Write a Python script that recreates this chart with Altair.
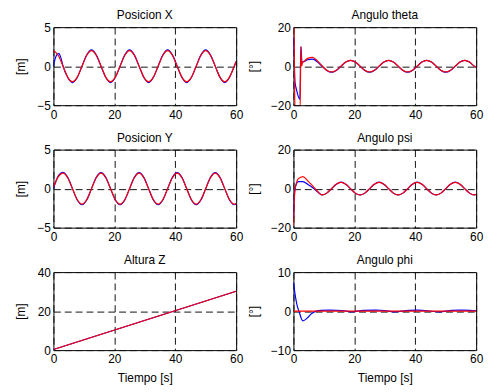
import altair as alt
import pandas as pd

FONT = "Liberation Sans"

# common eighth-period time grid (s)
t8 = [0, 1.56, 3.13, 4.69, 6.25, 7.81, 9.38, 10.94, 12.5, 14.06, 15.63, 17.19,
      18.75, 20.31, 21.88, 23.44, 25, 26.56, 28.13, 29.69, 31.25, 32.81, 34.38,
      35.94, 37.5, 39.06, 40.63, 42.19, 43.75, 45.31, 46.88, 48.44, 50, 51.56,
      53.13, 54.69, 56.25, 57.81, 59.38, 60]

# Posicion X
x_red = [2.0, 1.4, 0.0, -1.4, -2.0, -1.4, 0.0, 1.4,
         2.0, 1.4, 0.0, -1.4, -2.0, -1.4, 0.0, 1.4,
         2.0, 1.4, 0.0, -1.4, -2.0, -1.4, 0.0, 1.4,
         2.0, 1.4, 0.0, -1.4, -2.0, -1.4, 0.0, 1.4,
         2.0, 1.4, 0.0, -1.4, -2.0, -1.4, 0.0, 0.6]
xb_t = [0, 0.6, 1.2, 1.8, 2.5] + t8[2:]
x_blue = [0.0, 1.0, 1.5, 1.6, 1.0,
          0.05, -1.45, -2.1, -1.45, 0.0, 1.45,
          2.1, 1.45, 0.0, -1.45, -2.1, -1.45, 0.0, 1.45,
          2.1, 1.45, 0.0, -1.45, -2.1, -1.45, 0.0, 1.45,
          2.1, 1.45, 0.0, -1.45, -2.1, -1.45, 0.0, 1.45,
          2.1, 1.45, 0.0, -1.45, -2.1, -1.45, 0.0, 0.6]

# Posicion Y
y_red = [0.2, 1.5, 2.0, 1.4, 0.0, -1.4, -2.0, -1.4,
         0.0, 1.4, 2.0, 1.4, 0.0, -1.4, -2.0, -1.4,
         0.0, 1.4, 2.0, 1.4, 0.0, -1.4, -2.0, -1.4,
         0.0, 1.4, 2.0, 1.4, 0.0, -1.4, -2.0, -1.4,
         0.0, 1.4, 2.0, 1.4, 0.0, -1.4, -2.0, -1.9]
y_blue = [0.0, 1.6, 2.1, 1.45, 0.0, -1.45, -2.05, -1.45,
          0.0, 1.45, 2.05, 1.45, 0.0, -1.45, -2.05, -1.45,
          0.0, 1.45, 2.05, 1.45, 0.0, -1.45, -2.05, -1.45,
          0.0, 1.45, 2.05, 1.45, 0.0, -1.45, -2.05, -1.45,
          0.0, 1.45, 2.05, 1.45, 0.0, -1.45, -2.05, -1.95]

# Altura Z
z_t = [0, 60]
z_red = [0.3, 30.2]
z_blue = [0.3, 30.2]

# Angulo theta
th_red_t = [0, 0.15, 0.5, 2.2, 2.45, 2.7, 3.0, 3.5] + t8[3:]
th_red = [22, 22, -22, -22, 10, 0.0, 2.0, 2.5,
          4.0, 4.5, 2.8, 0.2, -2.1,
          -3.0, -2.1, 0.0, 2.1, 3.0, 2.1, 0.0, -2.1,
          -3.0, -2.1, 0.0, 2.1, 3.0, 2.1, 0.0, -2.1,
          -3.0, -2.1, 0.0, 2.1, 3.0, 2.1, 0.0, -2.1,
          -3.0, -2.1, 0.0, 2.1, 3.0, 2.1, 0.0, -0.5]
th_blue_t = [0, 0.2, 0.5, 1.0, 2.1, 2.45, 2.8, 3.5] + t8[3:]
th_blue = [15, 6, -8, -12, -17, 10, 2.0, 2.3,
           3.3, 3.6, 2.3, 0.0, -2.2,
           -3.1, -2.2, 0.0, 2.1, 3.0, 2.1, 0.0, -2.2,
           -3.1, -2.2, 0.0, 2.1, 3.0, 2.1, 0.0, -2.2,
           -3.1, -2.2, 0.0, 2.1, 3.0, 2.1, 0.0, -2.2,
           -3.1, -2.2, 0.0, 2.1, 3.0, 2.1, 0.0, -0.5]

# Angulo psi
ps_t = [0, 0.2, 0.5, 1.0] + t8[1:]
psi_red = [-19, -8, -1, 3.0,
           5.0, 6.2, 4.0, 1.5, -1.2, -3.2, -2.3,
           0.0, 2.3, 3.2, 2.3, 0.0, -2.3, -3.2, -2.3,
           0.0, 2.3, 3.2, 2.3, 0.0, -2.3, -3.2, -2.3,
           0.0, 2.3, 3.2, 2.3, 0.0, -2.3, -3.2, -2.3,
           0.0, 2.3, 3.2, 2.3, 0.0, -2.3, -3.2, -3.0]
psi_blue = [-15, -5, 0.0, 2.5,
            3.6, 3.6, 2.2, 0.6, -1.5, -3.2, -2.3,
            0.0, 2.3, 3.3, 2.3, 0.0, -2.3, -3.2, -2.3,
            0.0, 2.3, 3.3, 2.3, 0.0, -2.3, -3.2, -2.3,
            0.0, 2.3, 3.3, 2.3, 0.0, -2.3, -3.2, -2.3,
            0.0, 2.3, 3.3, 2.3, 0.0, -2.3, -3.2, -3.0]

# Angulo phi
phi_red_t = [0, 60]
phi_red = [0.0, 0.0]
phi_blue_t = [0, 0.5, 1.2, 1.8, 3.1, 4.5, 6.0, 7.5, 9, 12, 16, 19, 23, 27,
              30, 33, 38, 41, 44, 48, 52, 55, 58, 60]
phi_blue = [7.5, 4.5, 1.5, 0.0, -2.5, -1.8, -0.6, 0.0, 0.2, 0.25, 0.15, -0.2,
            0.2, 0.25, 0.15, -0.2, 0.2, 0.25, 0.1, -0.2, 0.2, 0.25, 0.2, 0.1]

X_TICKS = [0, 20, 40, 60]


def panel(title, ytitle, ydom, yvals, tb, vb, tr, vr, xtitle=None):
    db = pd.DataFrame({"t": tb, "v": vb})
    dr = pd.DataFrame({"t": tr, "v": vr})
    xenc = alt.X("t:Q", scale=alt.Scale(domain=[0, 60], nice=False),
                 axis=alt.Axis(values=X_TICKS, title=xtitle, labelPadding=4,
                               titlePadding=8))
    yenc = alt.Y("v:Q", scale=alt.Scale(domain=ydom, nice=False, zero=False),
                 axis=alt.Axis(values=yvals, title=ytitle, labelPadding=3,
                               titlePadding=10))
    blue = alt.Chart(db).mark_line(color="#0000FF", strokeWidth=1.2, clip=True,
                                   interpolate="monotone").encode(x=xenc, y=yenc)
    red = alt.Chart(dr).mark_line(color="#FF0000", strokeWidth=1.2, clip=True,
                                  interpolate="monotone").encode(x=xenc, y=yenc)
    return alt.layer(blue, red).properties(
        width=185, height=79,
        title=alt.TitleParams(title, fontSize=12, fontWeight="normal", font=FONT,
                              color="black", offset=-1, anchor="middle"))


p1 = panel("Posicion X", "[m]", [-5, 5], [-5, 0, 5], xb_t, x_blue, t8, x_red)
p2 = panel("Angulo theta", "[°]", [-20, 20], [-20, 0, 20], th_blue_t, th_blue, th_red_t, th_red)
p3 = panel("Posicion Y", "[m]", [-5, 5], [-5, 0, 5], t8, y_blue, t8, y_red)
p4 = panel("Angulo psi", "[°]", [-20, 20], [-20, 0, 20], ps_t, psi_blue, ps_t, psi_red)
p5 = panel("Altura Z", "[m]", [0, 40], [0, 20, 40], z_t, z_blue, z_t, z_red, xtitle="Tiempo [s]")
p6 = panel("Angulo phi", "[°]", [-10, 10], [-10, 0, 10], phi_blue_t, phi_blue, phi_red_t, phi_red,
           xtitle="Tiempo [s]")

chart = alt.concat(p1, p2, p3, p4, p5, p6, columns=2,
                   spacing={"row": 45, "column": 58}, bounds="flush").properties(
    padding={"left": 5, "top": -2, "right": 5, "bottom": 5}
).configure_view(
    stroke="black", strokeWidth=1
).configure_axis(
    domain=False, ticks=False, grid=True, gridColor="#111111", gridDash=[7, 4],
    gridWidth=1, labelFont=FONT, labelFontSize=12, labelColor="black",
    titleFont=FONT, titleFontSize=12, titleFontWeight="normal", titleColor="black",
    labelFlush=False, labelOverlap=False
)

chart.save("out.html", embed_options={"renderer": "svg", "actions": False})
